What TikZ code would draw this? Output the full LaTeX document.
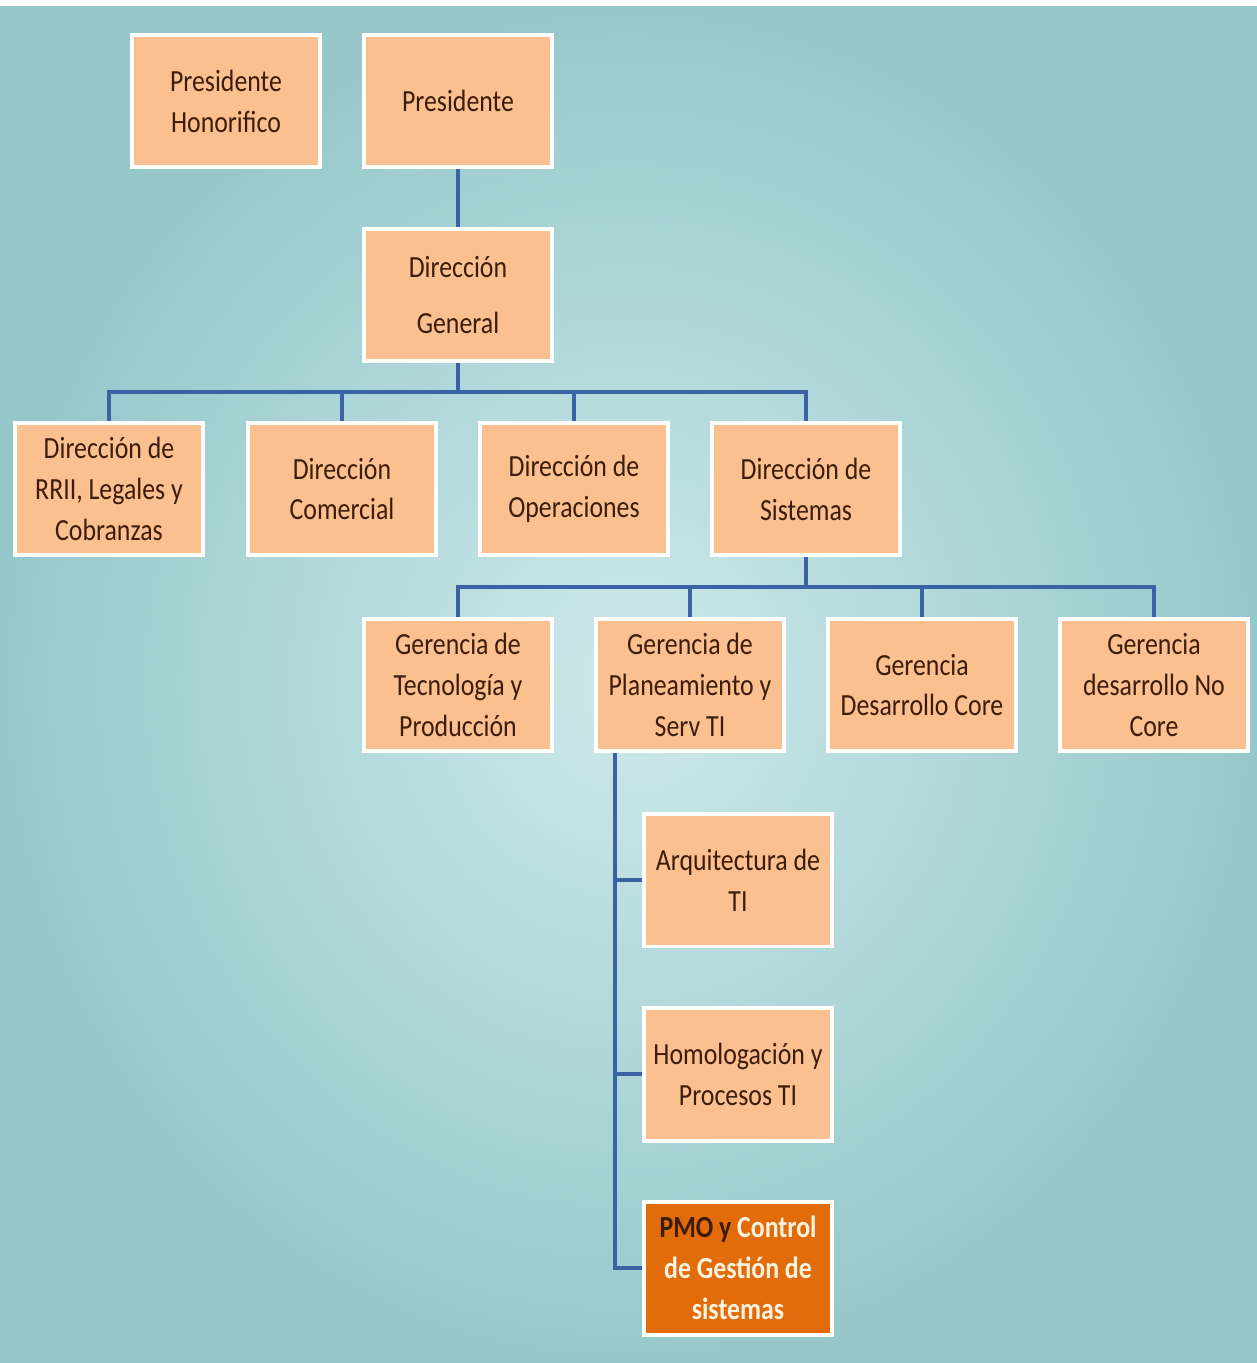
\documentclass[tikz,border=0pt]{standalone}
\usepackage{fontspec}
\setmainfont{Carlito}[FakeStretch=0.84]
\usetikzlibrary{positioning}
\definecolor{boxfill}{RGB}{250,192,143}
\definecolor{pmofill}{RGB}{226,107,10}
\definecolor{txtbrown}{RGB}{62,28,10}
\definecolor{linkblue}{RGB}{58,98,165}
\definecolor{bgin}{RGB}{206,233,234}
\definecolor{bgout}{RGB}{150,200,203}
\definecolor{pmotext}{RGB}{255,242,222}
\pgfdeclarelayer{bg}
\pgfdeclarelayer{links}
\pgfsetlayers{bg,links,main}
\tikzset{
  unit/.style={draw=white,line width=0.08cm,fill=boxfill,text=txtbrown,align=center,
    minimum width=3.76cm,minimum height=2.66cm,inner sep=2pt,
    font=\fontsize{17.5}{23.3}\selectfont},
  pmobox/.style={unit,fill=pmofill,text=pmotext,font=\fontsize{17.5}{23.3}\selectfont\bfseries},
  link/.style={draw=linkblue,line width=0.08cm}
}

\begin{document}
\begin{tikzpicture}[x=0.02cm,y=-0.02cm]
  \useasboundingbox (0,0) rectangle (1257,1363);

  \node[unit] (hon) at (226,101) {Presidente\\Honorifico};
  \node[unit] (pres) at (458,101) {Presidente};
  \node[unit] (gral) at (458,295) {Dirección\\[8.5pt]General};

  \node[unit] (rrii) at (109,489) {Dirección de\\RRII, Legales y\\Cobranzas};
  \node[unit] (com) at (342,489) {Dirección\\Comercial};
  \node[unit] (ope) at (574,489) {Dirección de\\Operaciones};
  \node[unit] (sis) at (806,489) {Dirección de\\Sistemas};

  \node[unit] (tec) at (458,685) {Gerencia de\\Tecnología y\\Producción};
  \node[unit] (plan) at (690,685) {Gerencia de\\Planeamiento y\\Serv TI};
  \node[unit] (core) at (922,685) {Gerencia\\Desarrollo Core};
  \node[unit] (nocore) at (1154,685) {Gerencia\\desarrollo No\\Core};

  \node[unit] (arq) at (738,880) {Arquitectura de\\TI};
  \node[unit] (hom) at (738,1074) {Homologación y\\Procesos TI};
  \node[pmobox] (pmo) at (738,1268) {\textcolor{txtbrown}{PMO y} Control\\de Gestión de\\sistemas};

  \coordinate (bus1) at (458,392);
  \coordinate (bus2) at (806,587);
  \coordinate (spine) at (615,753);

  \begin{pgfonlayer}{links}
  \draw[link] (pres) -- (gral);
  \foreach \n in {rrii,com,ope,sis}
    \draw[link] (gral) -- (bus1) -| (\n);
  \foreach \n in {tec,plan,core,nocore}
    \draw[link] (sis) -- (bus2) -| (\n);
  \foreach \n in {arq,hom,pmo}
    \draw[link] (spine) |- (\n);
  \end{pgfonlayer}

  \begin{pgfonlayer}{bg}
  \fill[white] (0,0) rectangle (1257,1363);
  \shade[inner color=bgin,outer color=bgout] (0,6) rectangle (1257,1363);
  \end{pgfonlayer}
\end{tikzpicture}
\end{document}
